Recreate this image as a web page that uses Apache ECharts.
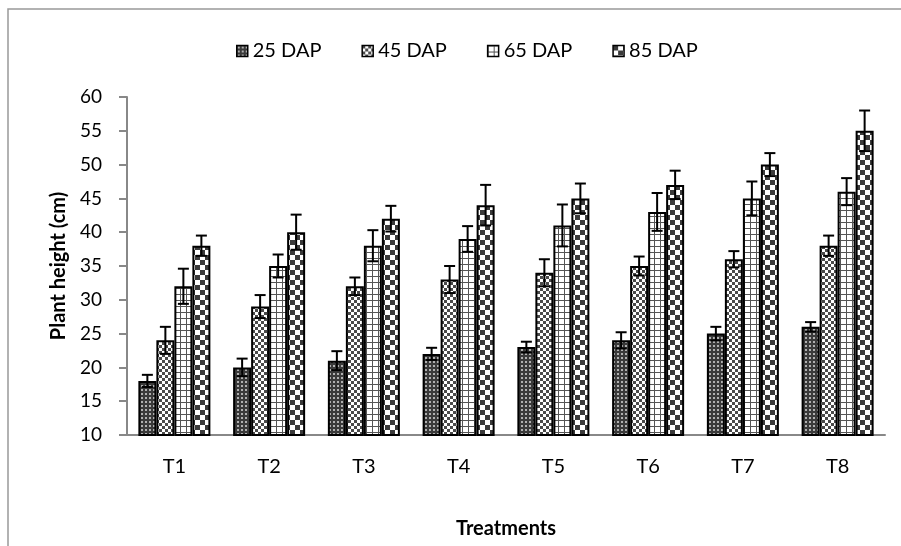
<!DOCTYPE html>
<html>
<head>
<meta charset="utf-8">
<script src="https://cdn.jsdelivr.net/npm/echarts@6/dist/echarts.min.js"></script>
<style>
html,body{margin:0;padding:0;background:#fff;}
#chart{width:901px;height:546px;}
</style>
</head>
<body>
<div id="chart"></div>
<script>
const categories = ['T1', 'T2', 'T3', 'T4', 'T5', 'T6', 'T7', 'T8'];
const seriesNames = ['25 DAP', '45 DAP', '65 DAP', '85 DAP'];
const dap25 = [18, 20, 21, 22, 23, 24, 25, 26];
const dap45 = [24, 29, 32, 33, 34, 35, 36, 38];
const dap65 = [32, 35, 38, 39, 41, 43, 45, 46];
const dap85 = [38, 40, 42, 44, 45, 47, 50, 55];
const err25 = [0.9, 1.3, 1.4, 0.9, 0.8, 1.2, 1.0, 0.7];
const err45 = [2.0, 1.7, 1.3, 2.0, 2.0, 1.4, 1.2, 1.5];
const err65 = [2.6, 1.7, 2.3, 1.9, 3.1, 2.8, 2.5, 2.0];
const err85 = [1.5, 2.6, 1.9, 3.0, 2.2, 2.1, 1.7, 3.0];
const yMin = 10, yMax = 60, yInterval = 5;

const values = [dap25, dap45, dap65, dap85];
const errors = [err25, err45, err65, err85];

function makePattern(size, draw) {
  const c = document.createElement('canvas');
  c.width = size; c.height = size;
  const ctx = c.getContext('2d');
  draw(ctx, size);
  return { image: c, repeat: 'repeat' };
}
const patterns = [
  makePattern(4, (ctx) => { ctx.fillStyle = '#3a3a3a'; ctx.fillRect(0,0,4,4); ctx.fillStyle = '#b0b0b0'; ctx.fillRect(1,1,2,2); }),
  makePattern(6, (ctx) => { ctx.fillStyle = '#fff'; ctx.fillRect(0,0,6,6); ctx.fillStyle = '#4a4a4a'; ctx.fillRect(0,0,3,3); ctx.fillRect(3,3,3,3); }),
  makePattern(6, (ctx) => { ctx.fillStyle = '#fff'; ctx.fillRect(0,0,6,6); ctx.fillStyle = '#555'; ctx.fillRect(0,0,6,1); ctx.fillRect(0,0,1,6); }),
  makePattern(10, (ctx) => { ctx.fillStyle = '#fff'; ctx.fillRect(0,0,10,10); ctx.fillStyle = '#3a3a3a'; ctx.fillRect(0,0,5,5); ctx.fillRect(5,5,5,5); })
];

const CAT_GAP = 0.24;
const barSeries = seriesNames.map((name, si) => ({
  name: name,
  type: 'bar',
  data: values[si],
  barGap: '0%',
  barCategoryGap: (CAT_GAP * 100) + '%',
  itemStyle: { color: patterns[si], borderColor: '#000', borderWidth: 2 },
  emphasis: { disabled: true },
  z: 2
}));

const errData = [];
values.forEach((arr, si) => arr.forEach((v, i) => errData.push([i, v, errors[si][i], si])));

const errSeries = {
  type: 'custom',
  name: 'err',
  data: errData,
  encode: { x: 0, y: 1 },
  z: 5,
  silent: true,
  renderItem: function (params, api) {
    const idx = api.value(0), v = api.value(1), e = api.value(2), si = api.value(3);
    const band = api.size([1, 0])[0];
    const group = band * (1 - CAT_GAP);
    const bw = group / 4;
    const p = api.coord([idx, v]);
    const x = p[0] - group / 2 + bw * (si + 0.5);
    const top = api.coord([idx, v + e])[1];
    const bot = api.coord([idx, v - e])[1];
    const cap = 5.5;
    const st = { stroke: '#000', lineWidth: 2 };
    return {
      type: 'group',
      children: [
        { type: 'line', shape: { x1: x, y1: top, x2: x, y2: bot }, style: st },
        { type: 'line', shape: { x1: x - cap, y1: top, x2: x + cap, y2: top }, style: st },
        { type: 'line', shape: { x1: x - cap, y1: bot, x2: x + cap, y2: bot }, style: st }
      ]
    };
  }
};

const chart = echarts.init(document.getElementById('chart'), null, { renderer: 'canvas' });
chart.setOption({
  animation: false,
  backgroundColor: '#fff',
  textStyle: { fontFamily: 'Lato' },
  graphic: [{
    type: 'rect', silent: true, z: -10,
    shape: { x: 8, y: 9, width: 1200, height: 1000 },
    style: { fill: 'none', stroke: '#999', lineWidth: 1.5 }
  }],
  legend: {
    data: seriesNames,
    left: 231,
    top: 36,
    itemWidth: 11,
    itemHeight: 11,
    itemGap: 40,
    icon: 'rect',
    itemStyle: { borderColor: '#000', borderWidth: 1.5 },
    textStyle: { fontSize: 20, color: '#000', fontFamily: 'Lato' }
  },
  grid: { left: 127, right: 16, top: 97, bottom: 111, containLabel: false },
  xAxis: {
    type: 'category',
    data: categories,
    name: 'Treatments',
    nameLocation: 'middle',
    nameGap: 84,
    nameTextStyle: { fontSize: 20, fontWeight: 'bold', color: '#000', fontFamily: 'Lato' },
    axisLine: { lineStyle: { color: '#888', width: 2 } },
    axisTick: { show: false },
    axisLabel: { fontSize: 20, color: '#000', margin: 22, fontFamily: 'Lato' }
  },
  yAxis: {
    type: 'value',
    min: yMin, max: yMax, interval: yInterval,
    name: 'Plant height (cm)',
    nameLocation: 'middle',
    nameGap: 58,
    nameTextStyle: { fontSize: 20, fontWeight: 'bold', color: '#000', fontFamily: 'Lato' },
    axisLine: { show: true, lineStyle: { color: '#888', width: 2 } },
    axisTick: { show: true, length: 8, lineStyle: { color: '#888', width: 2 } },
    splitLine: { show: false },
    axisLabel: { fontSize: 19, color: '#000', margin: 25, fontFamily: 'Lato' }
  },
  series: barSeries.concat([errSeries])
});
</script>
</body>
</html>
